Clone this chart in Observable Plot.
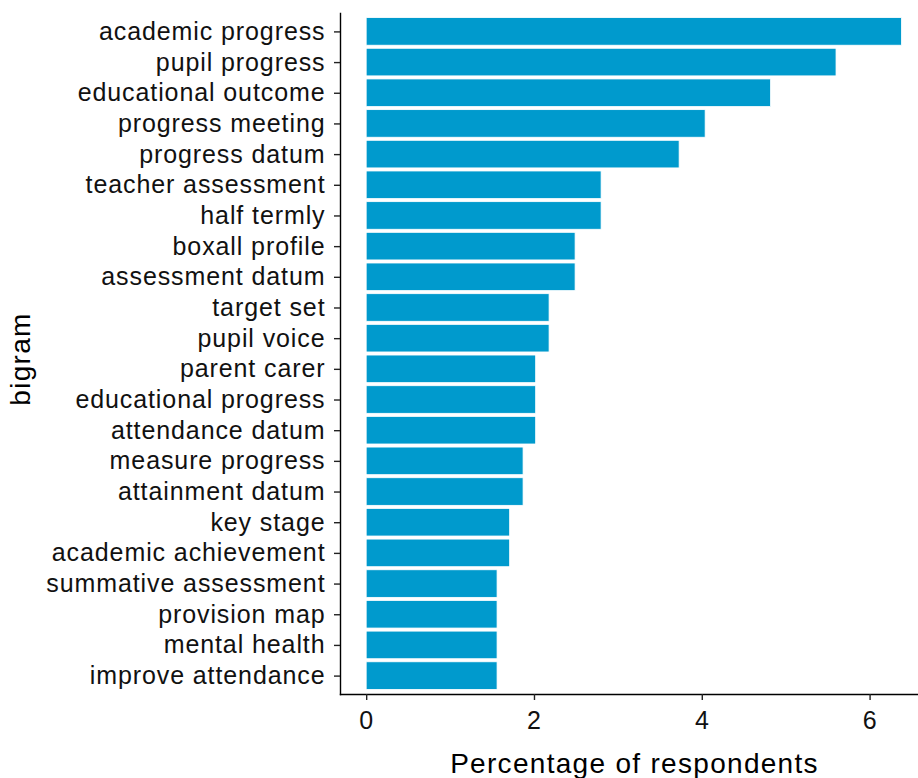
<!DOCTYPE html>
<html><head><meta charset="utf-8">
<script src="https://cdn.jsdelivr.net/npm/d3@7"></script>
<script src="https://cdn.jsdelivr.net/npm/@observablehq/plot@0.6"></script>
<style>
html,body{margin:0;padding:0;background:#fff;}
#chart svg{display:block;}
#chart svg text{letter-spacing:0.9px;}
#chart svg g.title text{letter-spacing:1.3px;}
</style></head><body><div id="chart"></div>
<script>
const categories = [
  "academic progress", "pupil progress", "educational outcome", "progress meeting",
  "progress datum", "teacher assessment", "half termly", "boxall profile",
  "assessment datum", "target set", "pupil voice", "parent carer",
  "educational progress", "attendance datum", "measure progress", "attainment datum",
  "key stage", "academic achievement", "summative assessment", "provision map",
  "mental health", "improve attendance"
];
const values = [
  6.38, 5.60, 4.82, 4.04,
  3.73, 2.80, 2.80, 2.49,
  2.49, 2.18, 2.18, 2.02,
  2.02, 2.02, 1.87, 1.87,
  1.71, 1.71, 1.56, 1.56,
  1.56, 1.56
];
const xTicks = [0, 2, 4, 6];
const xTitle = "Percentage of respondents";
const yTitle = "bigram";

const data = categories.map((c, i) => ({bigram: c, pct: values[i]}));
const fontFamily = '"Liberation Sans", Arial, sans-serif';

const chart = Plot.plot({
  width: 918, height: 778,
  marginTop: 13, marginBottom: 84, marginLeft: 340, marginRight: 0,
  style: {fontFamily, background: "#fff", color: "#000"},
  x: {domain: [-0.312, 6.577]},
  y: {type: "band", domain: categories, paddingInner: 0.1, paddingOuter: 0.15, round: false},
  marks: [
    Plot.barX(data, {x: "pct", y: "bigram", fill: "#009ACD", stroke: "#ffffff", strokeWidth: 0.8}),
    Plot.frame({anchor: "left", stroke: "#000", strokeWidth: 1.4}),
    Plot.frame({anchor: "bottom", stroke: "#000", strokeWidth: 1.4}),
    Plot.axisX({ticks: xTicks, tickFormat: d3.format("d"), tickSize: 6, tickPadding: 11, fontSize: 25, label: null, stroke: "#222", strokeWidth: 1.4, fill: "#111"}),
    Plot.axisY({tickSize: 6, tickPadding: 9, fontSize: 25, label: null, stroke: "#222", strokeWidth: 1.4, fill: "#111"}),
    Plot.text([xTitle], {frameAnchor: "bottom", dx: 5, dy: 78, lineAnchor: "bottom", textAnchor: "middle", fontSize: 28, fill: "#000", className: "title"}),
    Plot.text([yTitle], {frameAnchor: "left", dx: -319, dy: 5, rotate: -90, textAnchor: "middle", lineAnchor: "middle", fontSize: 28, fill: "#000", className: "title"})
  ]
});
document.getElementById("chart").appendChild(chart);
</script></body></html>
